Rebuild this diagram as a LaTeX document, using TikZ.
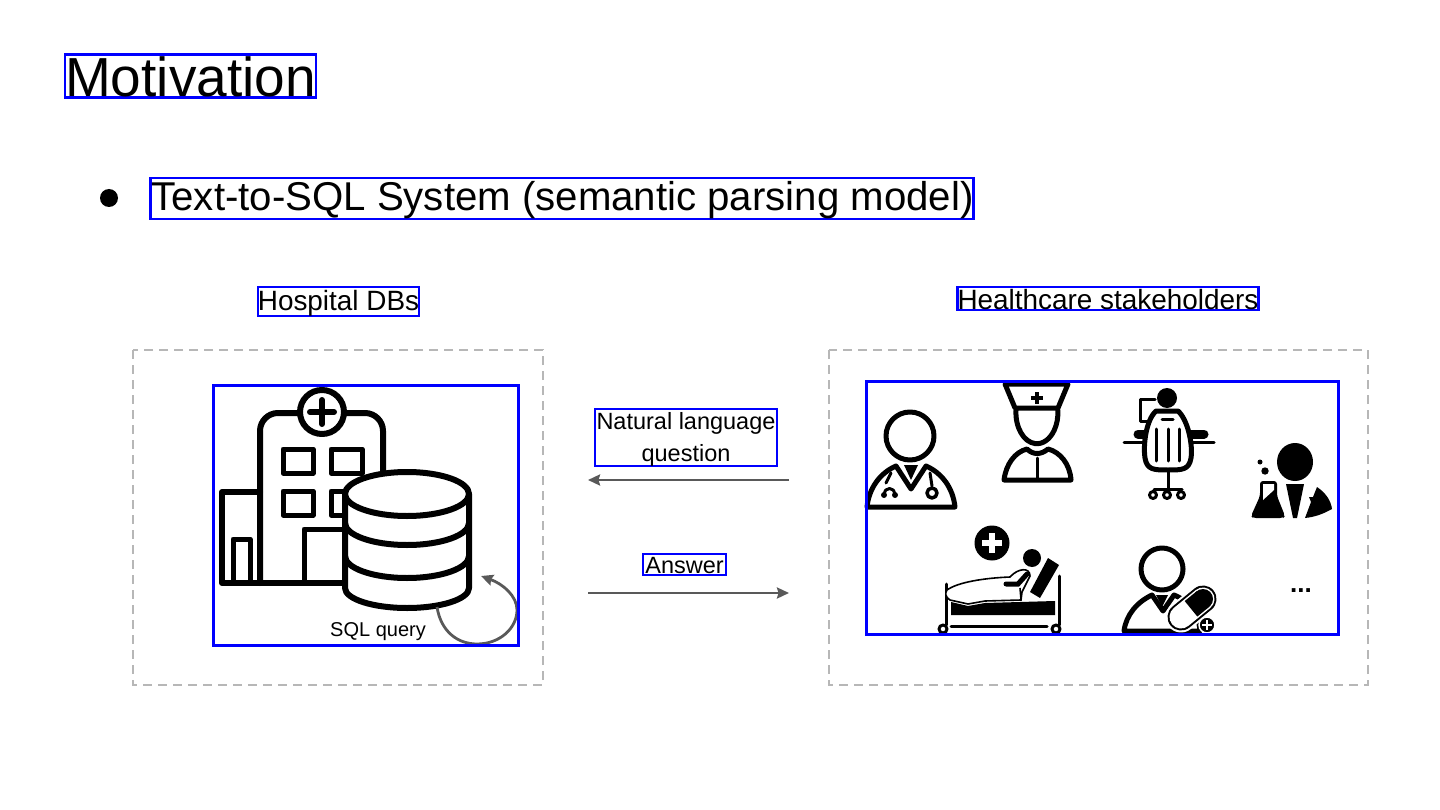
\documentclass[tikz,border=0pt]{standalone}
\usepackage{fontspec}
\setmainfont{Liberation Sans}
\usetikzlibrary{arrows.meta}
\definecolor{bluebox}{RGB}{0,0,255}
\definecolor{dashgrey}{RGB}{183,183,183}
\definecolor{arrowgrey}{RGB}{89,89,89}
\tikzset{
  tbox/.style={draw=bluebox,line width=2.4pt,inner sep=0pt,align=center,text=black},
  dashbox/.style={draw=dashgrey,line width=2.8pt,dash pattern=on 9pt off 6pt},
  flow/.style={draw=arrowgrey,line width=2.8pt,-{Stealth[length=12pt,width=11pt,inset=1.5pt]}},
  icon/.style={draw=black,line width=5pt,line join=round,line cap=round,fill=none},
  iconthin/.style={draw=black,line width=3pt,line join=round,line cap=round},
}
\newcommand{\fs}[1]{\fontsize{#1}{32}\selectfont}
\newcommand{\bl}[2]{\raisebox{#1pt}[0pt][0pt]{#2}}
\begin{document}
\begin{tikzpicture}[x=1pt,y=-1pt]
\useasboundingbox (0,0) rectangle (1440,810);
% dashed groups
\draw[dashbox] (133,350) rectangle (543,685);
\draw[dashbox] (829,350) rectangle (1368,685);
\fill (109,198) circle (9);
% ---- hospital
\draw[icon,line width=6pt,rounded corners=18pt] (260,583) -- (260,413) -- (383,413) -- (383,583);
\draw[icon,line width=6pt] (260,492) -- (222,492) -- (222,583) -- (345,583);
\draw[icon,fill=white,line width=6pt] (322,412) circle (22);
\draw[icon,line width=6pt] (322,400) -- (322,424) (310,412) -- (334,412);
\draw[icon] (283,449) rectangle (313,473);
\draw[icon] (331,449) rectangle (362,473);
\draw[icon] (283,491) rectangle (313,515);
\draw[icon] (331,491) rectangle (362,515);
\draw[icon] (304,583) -- (304,529) -- (345,529);
\draw[icon] (233,583) -- (233,539) -- (250,539) -- (250,583);
% ---- database
\draw[icon,fill=white,line width=6pt] (345,494) -- (345,588) arc[start angle=180,end angle=0,x radius=62,y radius=20] -- (469,494);
\draw[icon,fill=white,line width=6pt] (407,494) ellipse [x radius=62,y radius=22];
\draw[icon,line width=6pt] (345,523) arc[start angle=180,end angle=0,x radius=62,y radius=22];
\draw[icon,line width=6pt] (345,556) arc[start angle=180,end angle=0,x radius=62,y radius=22];
% ---- self loop
\coordinate (loopA) at (437,607);
\coordinate (loopB) at (481,576);
\draw[flow] (loopA) .. controls (441,632) and (458,644) .. (477,644) .. controls (500,644) and (517,628) .. (517,610) .. controls (517,596) and (503,584) .. (loopB);
\node[font=\fs{20}] (sql) at (378,632) {SQL query};
% ---- doctor
\draw[icon] (910,436) circle (24);
\draw[icon,fill=white] (867,507) .. controls (869,488) and (880,473) .. (896,466) -- (911,489) -- (926,466) .. controls (942,473) and (953,488) .. (955,507) -- cycle;
\fill (904,465) -- (918,465) -- (911,480) -- cycle;
\draw[iconthin] (891,473) -- (886,483) (884,494) arc[start angle=180,end angle=360,radius=5.5];
\fill (884,495) circle (3) (895,495) circle (3);
\draw[iconthin] (930,473) -- (932,486);
\draw[icon,line width=3.5pt] (932,493) circle (5);
% ---- nurse
\draw[icon] (1005,384) -- (1068,384) -- (1058,408) -- (1015,408) -- cycle;
\draw[line width=4pt,black] (1037,392) -- (1037,404) (1031,398) -- (1043,398);
\draw[icon] (1016,410) arc[start angle=185,end angle=-5,x radius=21,y radius=31];
\draw[icon] (1004,480) .. controls (1006,464) and (1015,452) .. (1027,449) .. controls (1033,455) and (1041,455) .. (1048,449) .. controls (1060,452) and (1070,464) .. (1071,480) -- cycle;
\draw[iconthin] (1037,458) -- (1037,480);
% ---- receptionist on chair
\fill (1167,398) circle (10);
\draw[iconthin] (1155,399) -- (1140,399) -- (1140,421) -- (1150,421);
\draw[icon,line width=9pt] (1138,434) -- (1150,434) (1186,434) -- (1204,434);
\draw[iconthin] (1124,442) -- (1214,442);
\draw[icon,fill=white] (1156,411) -- (1178,411) .. controls (1188,420) and (1193,445) .. (1191,458) .. controls (1189,470) and (1182,470) .. (1168,470) .. controls (1154,470) and (1147,470) .. (1145,458) .. controls (1143,445) and (1146,420) .. (1156,411) -- cycle;
\draw[iconthin] (1156,429) -- (1156,461) (1168,429) -- (1168,461) (1179,429) -- (1179,461);
\draw[iconthin] (1162,419) -- (1173,419);
\draw[iconthin] (1168,470) -- (1168,489) (1154,489) -- (1182,489);
\draw[iconthin] (1153,495) circle (3.5) (1167,495) circle (3.5) (1181,495) circle (3.5);
% ---- scientist
\fill (1295,462) ellipse [x radius=18,y radius=19];
\fill (1260,462) circle (2.5) (1265,471) circle (3.7);
\fill[rounded corners=3pt] (1260,481) -- (1277,481) -- (1277,496) -- (1285,516) -- (1283,518) -- (1253,518) -- (1251,516) -- (1260,496) -- cycle;
\fill[white] (1263,484) -- (1274,484) -- (1274,490) -- (1263,500) -- cycle;
\fill (1286,484) -- (1304,484) -- (1297,518) -- (1293,518) -- cycle;
\fill (1317,487) .. controls (1326,493) and (1331,501) .. (1332,509) .. controls (1323,514) and (1315,517) .. (1305,518) -- (1311,502) -- (1309,497) -- (1313,497) -- cycle;
% ---- patient
\fill (992,543) circle (17.5);
\draw[white,line width=6pt] (992,533) -- (992,553) (982,543) -- (1002,543);
\draw[iconthin] (946,584) -- (946,625) (1059,576) -- (1059,625);
\draw[iconthin] (951,626) -- (1047,626);
\draw[iconthin,fill=white] (943,629) circle (4) (1056,629) circle (4);
\fill (1032,558) circle (9);
\fill (1048,558) -- (1059,565) -- (1040,598) -- (1030,592) -- cycle;
\fill (951,602) -- (968,606) -- (985,603) -- (1055,601) -- (1055,615) -- (951,615) -- cycle;
\draw[black,line width=1.6pt,fill=white] (947,590) .. controls (958,582) and (985,578) .. (1010,577) .. controls (1018,568) and (1030,567) .. (1030,576) -- (1022,592) -- (1021,600) -- (985,601) -- (968,604) -- (950,600) .. controls (945,597) and (945,593) .. (947,590) -- cycle;
\draw[black,line width=5pt,line cap=round] (1006,584) -- (1018,584) -- (1027,574);
\draw[black,line width=1.6pt] (1020,588) -- (1021,600);
% ---- pharmacist
\draw[icon] (1162,569) circle (21);
\draw[icon,fill=white] (1124,631) .. controls (1126,615) and (1137,602) .. (1152,595) -- (1163,611) -- (1174,595) .. controls (1189,601) and (1199,615) .. (1200,631) -- cycle;
\fill (1156,595) -- (1168,595) -- (1162,607) -- cycle;
\draw[white,line width=31pt,line cap=round] (1181,617) -- (1203,599);
\draw[black,line width=27pt,line cap=round] (1181,617) -- (1203,599);
\draw[white,line width=23pt,line cap=round] (1181,617) -- (1203,599);
\draw[black,line width=20pt] (1191,608.8) -- (1203,599);
\fill (1203,599) circle (10);
\draw[draw=white,line width=1.5pt,fill=black] (1207,625) circle (8);
\draw[white,line width=2.6pt] (1207,620) -- (1207,630) (1202,625) -- (1212,625);
\node[font=\fs{26}\bfseries] (dots) at (1301,591) {...};
% ---- arrows
\coordinate (qa) at (789,480); \coordinate (qb) at (588,480);
\coordinate (aa) at (588,593); \coordinate (ab) at (789,593);
\draw[flow] (qa) -- (qb);
\draw[flow] (aa) -- (ab);
% ---- picture frames
\node[tbox,minimum width=305pt,minimum height=260pt] (hosp) at (366,515.5) {};
\node[tbox,minimum width=472pt,minimum height=253pt] (staff) at (1102.5,508) {};
% ---- labels
\node[tbox,font=\fs{55},minimum width=251pt,minimum height=43pt] (title) at (190.5,76) {\bl{-21}{Motivation}};
\node[tbox,font=\fs{40.2},minimum width=822pt,minimum height=41pt] (sub) at (562,198.5) {\hspace{1pt}\bl{-12}{Text-to-SQL System (semantic parsing model)}};
\node[tbox,font=\fs{27.9},minimum width=161pt,minimum height=29pt] (hdb) at (338.5,301.5) {\bl{-9.5}{Hospital DBs}};
\node[tbox,font=\fs{27.9},minimum width=300pt,minimum height=23pt] (hs) at (1108,298.5) {\bl{-10.5}{Healthcare stakeholders}};
\node[tbox,font=\fs{23.5},minimum width=182pt,minimum height=57pt] (nlq) at (686,437.5) {\bl{8.5}{\begin{tabular}[t]{@{}c@{}}Natural language\\question\end{tabular}}};
\node[tbox,font=\fs{23.5},minimum width=83pt,minimum height=21pt] (ans) at (684.5,564.5) {\bl{-8.5}{Answer}};
\end{tikzpicture}
\end{document}
